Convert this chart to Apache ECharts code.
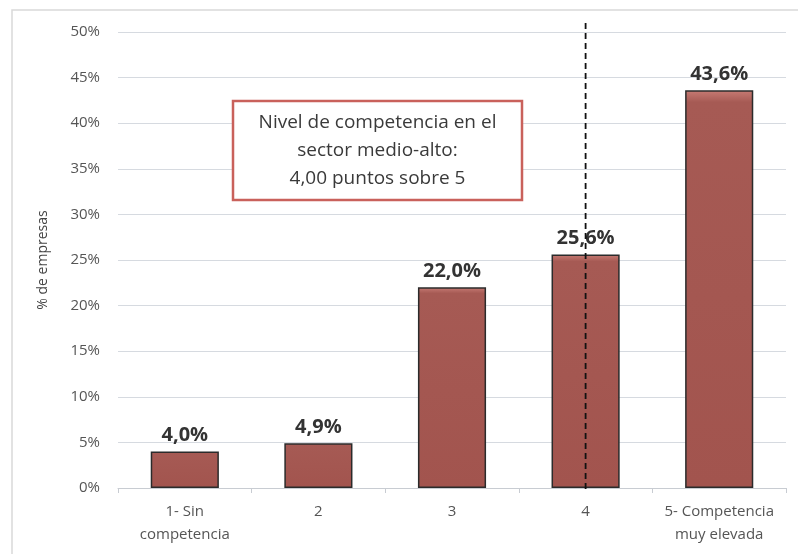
<!DOCTYPE html>
<html>
<head>
<meta charset="utf-8">
<script src="https://cdn.jsdelivr.net/npm/echarts@6/dist/echarts.min.js"></script>
<style>
  html, body { margin: 0; padding: 0; background: #fff; }
  #main { width: 798px; height: 554px; }
</style>
</head>
<body>
<div id="main"></div>
<script>
// data
var categories = ['1- Sin\ncompetencia', '2', '3', '4', '5- Competencia\nmuy elevada'];
var shares = [4.0, 4.9, 22.0, 25.6, 43.6];
var meanLevel = 4.00;   // position of the dashed line on the 1..5 scale
var noteLines = ['Nivel de competencia en el', 'sector medio-alto:', '4,00 puntos sobre 5'];

var FONT = '"Open Sans", Lato, sans-serif';
var chart = echarts.init(document.getElementById('main'));

var fmt = function (v) { return v.toFixed(1).replace('.', ',') + '%'; };

chart.setOption({
    animation: false,
    grid: { left: 118, right: 12, top: 32, bottom: 66 },
    xAxis: {
        type: 'category',
        data: categories,
        axisLine: { lineStyle: { color: '#c8ccd2', width: 1 } },
        axisTick: { show: true, length: 5, lineStyle: { color: '#c8ccd2' } },
        axisLabel: { interval: 0, color: '#555', fontSize: 15, fontFamily: FONT, lineHeight: 23, margin: 12 }
    },
    yAxis: {
        type: 'value',
        min: 0, max: 50, interval: 5,
        name: '% de empresas',
        nameLocation: 'middle',
        nameGap: 68,
        nameTextStyle: { color: '#444', fontSize: 14, fontFamily: FONT },
        axisLine: { show: false },
        axisTick: { show: false },
        axisLabel: { color: '#555', fontSize: 15, fontFamily: FONT, margin: 18, formatter: '{value}%' },
        splitLine: { lineStyle: { color: '#d6dae0', width: 1 } }
    },
    series: [{
        type: 'bar',
        data: shares,
        barWidth: '51%',
        itemStyle: {
            color: new echarts.graphic.LinearGradient(0, 0, 0, 1, [
                { offset: 0, color: '#c77b74' },
                { offset: 0.03, color: '#a65a54' },
                { offset: 1, color: '#a2544e' }
            ]),
            borderColor: '#2b2b2b',
            borderWidth: 1.5
        },
        label: {
            show: true,
            position: 'top',
            distance: 6,
            color: '#333',
            fontSize: 20,
            fontWeight: 'bold',
            fontFamily: FONT,
            formatter: function (p) { return fmt(p.value); }
        }
    }]
});

// dashed line at the mean level and the note box
var xMean = chart.convertToPixel({ xAxisIndex: 0 }, meanLevel - 1);
var yBase = chart.convertToPixel({ yAxisIndex: 0 }, 0);
chart.setOption({
    graphic: [
        {
            type: 'rect',
            shape: { x: 12, y: 10, width: 800, height: 560 },
            style: { fill: 'none', stroke: '#d9d9d9', lineWidth: 1.5 },
            silent: true
        },
        {
            type: 'line',
            shape: { x1: xMean, y1: 23, x2: xMean, y2: yBase + 1 },
            style: { stroke: '#111', lineWidth: 1.8, lineDash: [6, 4] },
            z: 10
        },
        {
            type: 'rect',
            shape: { x: 233, y: 101, width: 289, height: 99 },
            style: { fill: '#fff', stroke: '#c9615b', lineWidth: 2.5 },
            z: 20
        },
        {
            type: 'text',
            x: 377.5, y: 151,
            style: {
                text: noteLines.join('\n'),
                align: 'center',
                verticalAlign: 'middle',
                fill: '#3a3a3a',
                font: '19px ' + FONT,
                lineHeight: 28
            },
            z: 21
        }
    ]
});
</script>
</body>
</html>
